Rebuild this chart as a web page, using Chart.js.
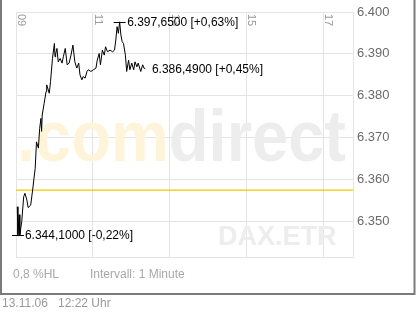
<!DOCTYPE html>
<html><head><meta charset="utf-8">
<script src="https://cdn.jsdelivr.net/npm/chart.js@4/dist/chart.umd.min.js"></script>
<style>html,body{margin:0;padding:0;background:#fff;overflow:hidden}canvas{display:block}</style>
</head><body><canvas id="c" width="417" height="312"></canvas>
<script>
const times=['09:02','09:03','09:05','09:06','09:09','09:12','09:14','09:17','09:19','09:23','09:26','09:30','09:32','09:35','09:37','09:39','09:40','09:41','09:44','09:47','09:48','09:52','09:54','09:57','10:00','10:01','10:02','10:04','10:06','10:09','10:12','10:14','10:17','10:20','10:23','10:26','10:29','10:32','10:35','10:38','10:40','10:43','10:45','10:48','10:51','10:53','10:57','11:01','11:05','11:07','11:10','11:12','11:15','11:18','11:20','11:23','11:27','11:31','11:34','11:36','11:38','11:40','11:42','11:44','11:46','11:48','11:51','11:53','11:56','11:58','12:01','12:04','12:06','12:09','12:11','12:15','12:18','12:20','12:22'];
const prices=[6353.5,6346.8,6351.6,6346.8,6350.0,6355.9,6356.7,6355.1,6353.3,6353.9,6357.5,6362.7,6369.0,6367.5,6372.2,6374.6,6371.5,6375.4,6378.2,6381.0,6382.6,6380.6,6383.4,6388.9,6392.5,6389.3,6390.0,6391.3,6388.1,6388.9,6387.8,6389.3,6391.3,6387.4,6387.8,6389.7,6392.1,6388.1,6386.6,6387.8,6385.0,6383.8,6384.6,6384.2,6385.8,6386.2,6385.8,6386.2,6386.6,6388.5,6390.1,6387.4,6390.9,6389.7,6391.7,6390.5,6390.9,6390.5,6390.9,6393.3,6396.5,6394.9,6397.65,6394.5,6392.9,6392.5,6389.7,6385.8,6388.5,6386.2,6387.8,6386.2,6388.1,6386.9,6387.8,6385.8,6387.4,6386.6,6386.49];
const prevClose=6357.45;
const yTicks=[6350,6360,6370,6380,6390,6400];
const yTickLabels=['6.350','6.360','6.370','6.380','6.390','6.400'];
const xTicks=[9,11,13,15,17];
const xTickLabels=['09','11','13','15','17'];
const hiLabel='6.397,6500 [+0,63%]';
const loLabel='6.344,1000 [-0,22%]';
const lastLabel='6.386,4900 [+0,45%]';
const footerLeft='0,8 %HL';
const footerMid='Intervall: 1 Minute';
const footerDate='13.11.06';
const footerTime='12:22 Uhr';
const wmA='.com', wmB='direct', wmC='DAX.ETR';

const toH=t=>{const [h,m]=t.split(':').map(Number);return h+m/60;};
const lineData=times.map((t,i)=>({x:toH(t),y:prices[i]}));
const xMin=9, xMax=17.78, yMin=6341.5, yMax=6400;
const FONT='"Liberation Sans", Arial, sans-serif';

const overlay={id:'overlay',
 beforeDatasetsDraw(chart){
  const ctx=chart.ctx;
  ctx.save();
  ctx.font='bold 72px '+FONT;
  ctx.textBaseline='alphabetic';
  const wa=ctx.measureText(wmA).width, wb=ctx.measureText(wmB).width;
  const sx=(346-17)/(wa+wb);
  ctx.translate(17,161); ctx.scale(sx,1);
  ctx.fillStyle='#fdf4da'; ctx.fillText(wmA,0,0);
  ctx.fillStyle='#ededed'; ctx.fillText(wmB,wa,0);
  ctx.restore();
  ctx.save();
  ctx.font='bold 27px '+FONT;
  ctx.fillStyle='#ededed';
  ctx.textBaseline='alphabetic';
  ctx.fillText(wmC,218,245);
  ctx.restore();
 },
 afterDatasetsDraw(chart){
  const ctx=chart.ctx, xs=chart.scales.x, ys=chart.scales.y, top=chart.chartArea.top;
  ctx.save();
  ctx.font='11px '+FONT; ctx.fillStyle='#999';
  xTicks.forEach((v,i)=>{
   const px=xs.getPixelForValue(v);
   ctx.save(); ctx.translate(px+2,top+2); ctx.rotate(Math.PI/2);
   ctx.textBaseline='alphabetic'; ctx.textAlign='left';
   ctx.fillText(xTickLabels[i],0,0); ctx.restore();
  });
  let hi=0,lo=0; prices.forEach((p,i)=>{if(p>prices[hi])hi=i;if(p<prices[lo])lo=i;});
  const last=prices.length-1;
  ctx.font='12px '+FONT; ctx.fillStyle='#000'; ctx.strokeStyle='#000'; ctx.lineWidth=1;
  ctx.textBaseline='middle'; ctx.textAlign='left';
  const mark=(i,txt,bar,dx)=>{
   const px=xs.getPixelForValue(lineData[i].x), py=Math.round(ys.getPixelForValue(prices[i]))+0.5;
   if(bar){ctx.beginPath();ctx.moveTo(px-6,py);ctx.lineTo(px+6,py);ctx.stroke();}
   ctx.fillText(txt,px+dx,py+0.5);
  };
  mark(hi,hiLabel,true,7.5);
  mark(lo,loLabel,true,7);
  mark(last,lastLabel,false,6.7);
  ctx.restore();
 },
 afterDraw(chart){
  const ctx=chart.ctx;
  ctx.save();
  ctx.strokeStyle='#7a7a7a'; ctx.lineWidth=2;
  ctx.beginPath(); ctx.moveTo(1,0); ctx.lineTo(1,294); ctx.lineTo(414.5,294); ctx.lineTo(414.5,0); ctx.stroke();
  ctx.font='12px '+FONT; ctx.textBaseline='middle'; ctx.fillStyle='#a8a8a8';
  ctx.fillText(footerLeft,13,275);
  ctx.fillText(footerMid,90,275);
  ctx.fillStyle='#999';
  ctx.fillText(footerDate,2,304);
  ctx.fillText(footerTime,58,304);
  ctx.restore();
 }
};

new Chart(document.getElementById('c'),{
 type:'line',
 data:{datasets:[
  {data:lineData,borderColor:'#000',borderWidth:1,pointRadius:0,tension:0,fill:false,order:1},
  {data:[{x:xMin,y:prevClose},{x:xMax,y:prevClose}],borderColor:'#f5c800',borderWidth:1.2,pointRadius:0,fill:false,order:2}
 ]},
 options:{
  responsive:false,animation:false,devicePixelRatio:1,
  layout:{padding:{left:16,top:12,right:0,bottom:55}},
  plugins:{legend:{display:false},tooltip:{enabled:false}},
  scales:{
   x:{type:'linear',min:xMin,max:xMax,
      afterBuildTicks:s=>{s.ticks=xTicks.map(v=>({value:v}));},
      afterFit:s=>{s.height=0;},
      grid:{color:'#e4e4e4',drawTicks:false,lineWidth:1},
      border:{color:'#e4e4e4'},
      ticks:{display:false}},
   y:{type:'linear',position:'right',min:yMin,max:yMax,
      afterBuildTicks:s=>{s.ticks=yTicks.map(v=>({value:v}));},
      afterFit:s=>{s.width=64;},
      grid:{color:'#e4e4e4',drawTicks:false,lineWidth:1},
      border:{color:'#e4e4e4'},
      ticks:{padding:4,color:'#6a6a6a',font:{family:FONT,size:13},
        callback:(v)=>{const i=yTicks.indexOf(v);return i>=0?yTickLabels[i]:'';}}}
  }
 },
 plugins:[overlay]
});
</script></body></html>
